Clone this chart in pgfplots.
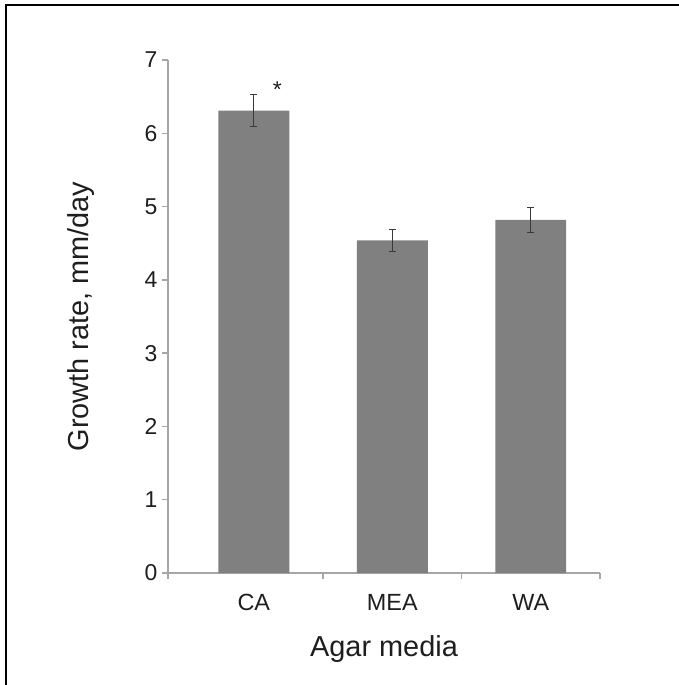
\documentclass[border=0pt]{standalone}
\usepackage{pgfplots}
\pgfplotsset{compat=1.18}
\usepackage{fontspec}
\setmainfont{Liberation Sans}
\definecolor{barc}{HTML}{808080}
\definecolor{errc}{HTML}{3A3A3A}
\definecolor{axc}{HTML}{A6A6A6}
\definecolor{txt}{HTML}{1E1E1E}
\begin{document}
\begin{tikzpicture}
\path[use as bounding box] (0,0) rectangle (679bp,685bp);
\draw[black, line width=2bp] (6bp,0) -- (6bp,680bp) -- (679bp,680bp);
\begin{axis}[
  at={(168bp,112bp)}, anchor=south west,
  scale only axis, width=432bp, height=513bp,
  xmin=-0.62, xmax=2.5, ymin=0, ymax=7,
  axis x line=bottom, axis y line=left,
  axis line style={draw=axc, line width=1.3bp, -},
  tick style={draw=axc, line width=1.3bp},
  tick align=outside, major tick length=6bp,
  ytick={0,1,...,7},
  yticklabel style={font=\fontsize{23}{27}\selectfont, text=txt, xshift=-1bp},
  xtick={-0.62,0.5,1.5,2.5}, xticklabels={},
  extra x ticks={0,1,2}, extra x tick labels={CA,MEA,WA},
  extra x tick style={major tick length=0pt, xticklabel style={font=\fontsize{23.5}{28}\selectfont, text=txt, yshift=-18bp}},
  /pgf/number format/assume math mode=true,
  xlabel={Agar media}, ylabel={Growth rate, mm/day},
  xlabel style={font=\fontsize{29}{34}\selectfont, text=txt, at={(axis description cs:0.5,-0.163)}, anchor=base},
  ylabel style={font=\fontsize{29}{34}\selectfont, text=txt, at={(axis description cs:-0.185,0.5)}, anchor=base, rotate=0},
  clip=false,
]
\addplot[ybar, bar width=0.512, fill=barc, draw=none,
  error bars/.cd, y dir=both, y explicit,
  error bar style={color=errc, line width=1.3bp},
  error mark options={rotate=90, mark size=3.5bp, line width=1.3bp, color=errc}]
  coordinates {(0,6.31) +- (0,0.22) (1,4.54) +- (0,0.15) (2,4.82) +- (0,0.17)};
\node[font=\fontsize{23}{27}\selectfont, text=txt] at (axis cs:0.17,6.60) {*};
\end{axis}
\end{tikzpicture}
\end{document}
